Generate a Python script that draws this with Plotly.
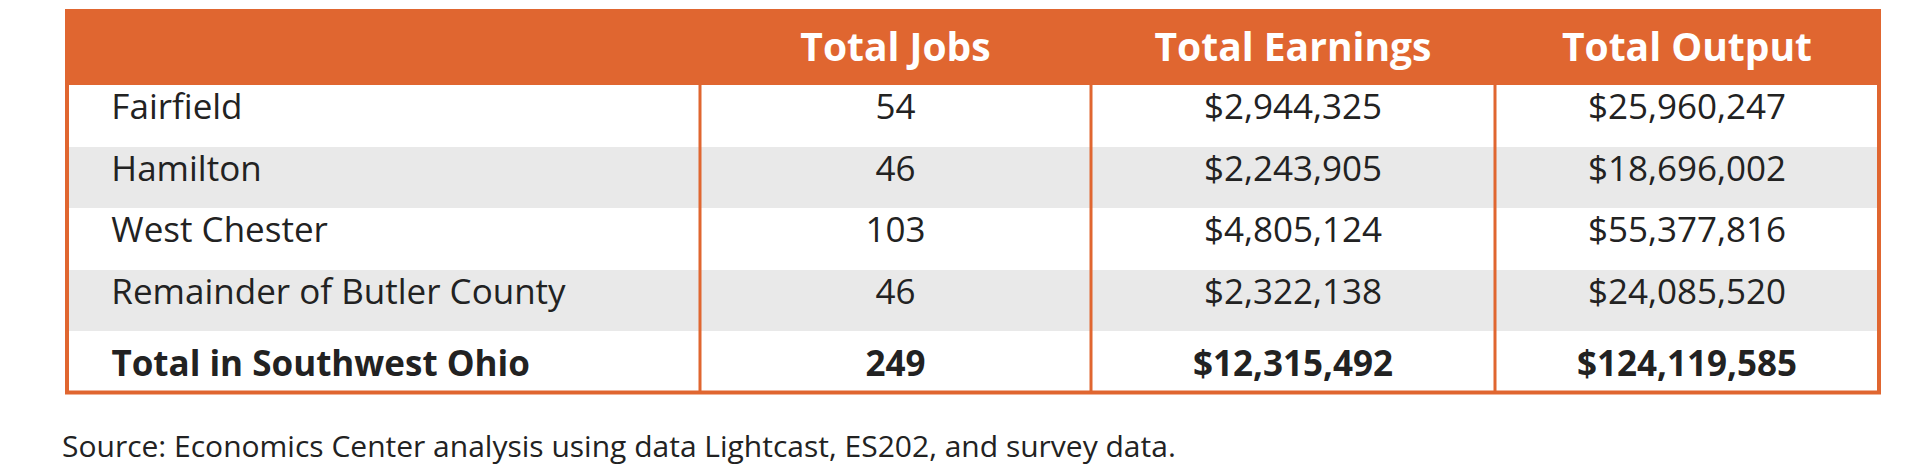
import plotly.graph_objects as go

regions = ["Fairfield", "Hamilton", "West Chester", "Remainder of Butler County",
           "<b>Total in Southwest Ohio</b>"]
jobs = ["54", "46", "103", "46", "<b>249</b>"]
earnings = ["$2,944,325", "$2,243,905", "$4,805,124", "$2,322,138", "<b>$12,315,492</b>"]
output = ["$25,960,247", "$18,696,002", "$55,377,816", "$24,085,520", "<b>$124,119,585</b>"]
headers = ["", "Total Jobs", "Total Earnings", "Total Output"]

W, H = 1920, 476
orange = "#E06630"
gray = "#E9E9E9"
left, right, top = 59, 1871, 3
col_edges = [59, 692, 1083, 1487, 1871]
head_h, row_h = 74, 61.5
bottom = top + head_h + row_h * len(regions)

pad = "\u00a0" * 4
row_fill = ["white" if i % 2 == 0 else gray for i in range(len(regions))]

fig = go.Figure(go.Table(
    domain=dict(x=[left / W, right / W], y=[0, 1 - top / H]),
    columnwidth=[col_edges[i + 1] - col_edges[i] for i in range(4)],
    header=dict(values=[f"<b>{h}</b>" for h in headers],
                fill_color=orange, line=dict(width=0),
                font=dict(family="Open Sans", size=39, color="white"),
                align="center", height=head_h),
    cells=dict(values=[[pad + r for r in regions], jobs, earnings, output],
               fill_color=[row_fill] * 4, line=dict(width=0),
               font=dict(family="Open Sans", size=35, color="#222222"),
               align=["left", "center", "center", "center"], height=row_h),
))

shapes = []
for x in col_edges[1:-1]:
    shapes.append(dict(type="line", xref="paper", yref="paper",
                       x0=x / W, x1=x / W, y0=1 - (top + head_h) / H, y1=1 - bottom / H,
                       line=dict(color=orange, width=3)))
shapes.append(dict(type="rect", xref="paper", yref="paper",
                   x0=left / W, x1=right / W, y0=1 - top / H, y1=1 - bottom / H,
                   line=dict(color=orange, width=4)))

fig.update_layout(
    width=W, height=H, margin=dict(l=0, r=0, t=0, b=0),
    paper_bgcolor="white", shapes=shapes,
    annotations=[dict(text="Source: Economics Center analysis using data Lightcast, ES202, and survey data.",
                      x=52 / W, y=1 - 437 / H, xref="paper", yref="paper",
                      xanchor="left", yanchor="middle", showarrow=False,
                      font=dict(family="Open Sans", size=30, color="#222222"))],
)

fig.write_html("out.html")
